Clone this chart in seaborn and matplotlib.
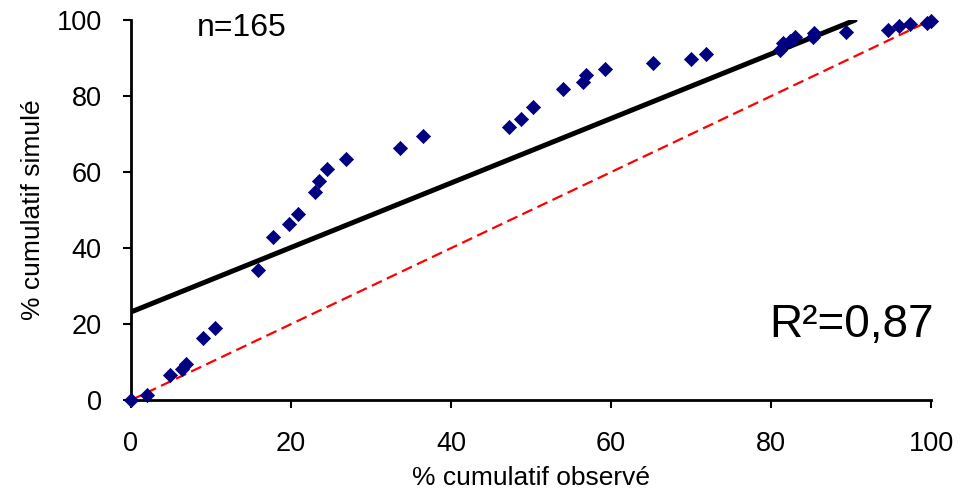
import numpy as np
import pandas as pd
import matplotlib
matplotlib.use("Agg")
import matplotlib.pyplot as plt
import seaborn as sns

sns.set_style("ticks")
plt.rcParams['font.family'] = ['Liberation Sans', 'DejaVu Sans']
plt.rcParams['text.color'] = 'black'
plt.rcParams['axes.labelcolor'] = 'black'
plt.rcParams['xtick.color'] = 'black'
plt.rcParams['ytick.color'] = 'black'

observed = [0, 2.0, 4.9, 6.4, 6.9, 9.0, 10.5, 15.9, 17.8, 19.8, 20.9, 23.0, 23.5, 24.5,
            26.9, 33.6, 36.5, 47.3, 48.7, 50.2, 54.0, 56.5, 56.9, 59.3, 65.2, 70.0, 71.9,
            81.1, 81.5, 82.4, 83.0, 85.2, 85.4, 89.4, 94.6, 96.0, 97.4, 99.5, 100.0]
simulated = [0, 1.3, 6.6, 8.2, 9.5, 16.3, 18.9, 34.2, 42.9, 46.3, 48.9, 54.7, 57.6, 60.8,
             63.4, 66.3, 69.5, 71.8, 73.9, 77.2, 81.8, 83.8, 85.5, 87.2, 88.6, 89.9, 91.0,
             92.1, 93.9, 94.6, 95.5, 95.6, 96.6, 96.9, 97.4, 98.4, 98.9, 99.3, 99.8]

# Regression line end points and 1:1 line
fit_x = [0, 90.5]
fit_y = [23.2, 100]
ref_x = [0, 100]
ref_y = [0, 100]

df = pd.DataFrame({'obs': observed, 'sim': simulated})

fig = plt.figure(figsize=(9.77, 4.91), dpi=100)
ax = fig.add_axes([0.134, 0.185, 0.819, 0.774])

sns.lineplot(x=ref_x, y=ref_y, ax=ax, color='#FF0000', linestyle=(0, (5, 2.5)),
             linewidth=1.6, zorder=2)
sns.lineplot(x=fit_x, y=fit_y, ax=ax, color='black', linewidth=3.6, zorder=3)
sns.scatterplot(data=df, x='obs', y='sim', ax=ax, marker='D', s=52,
                color='#000080', edgecolor='#000080', linewidth=0.5, zorder=4,
                clip_on=False)

ax.set_xlim(0, 100)
ax.set_ylim(0, 100)
ax.set_xticks(range(0, 101, 20))
ax.set_yticks(range(0, 101, 20))
ax.tick_params(axis='both', labelsize=19.5, length=6, width=1.5, direction='out')
ax.tick_params(axis='y', pad=15)
ax.tick_params(axis='x', pad=16)
for side in ['top', 'right']:
    ax.spines[side].set_visible(False)
for side in ['left', 'bottom']:
    ax.spines[side].set_linewidth(2)
    ax.spines[side].set_color('black')

ax.set_xlabel('% cumulatif observé', fontsize=19)
ax.set_ylabel('% cumulatif simulé', fontsize=19)
ax.xaxis.set_label_coords(0.5, -0.172)
ax.yaxis.set_label_coords(-0.108, 0.5)

ax.text(8.2, 95.8, 'n=165', fontsize=23, ha='left', va='baseline')
ax.text(100.3, 16.7, 'R²=0,87', fontsize=33, ha='right', va='baseline')

fig.savefig('out.png', dpi=100)
